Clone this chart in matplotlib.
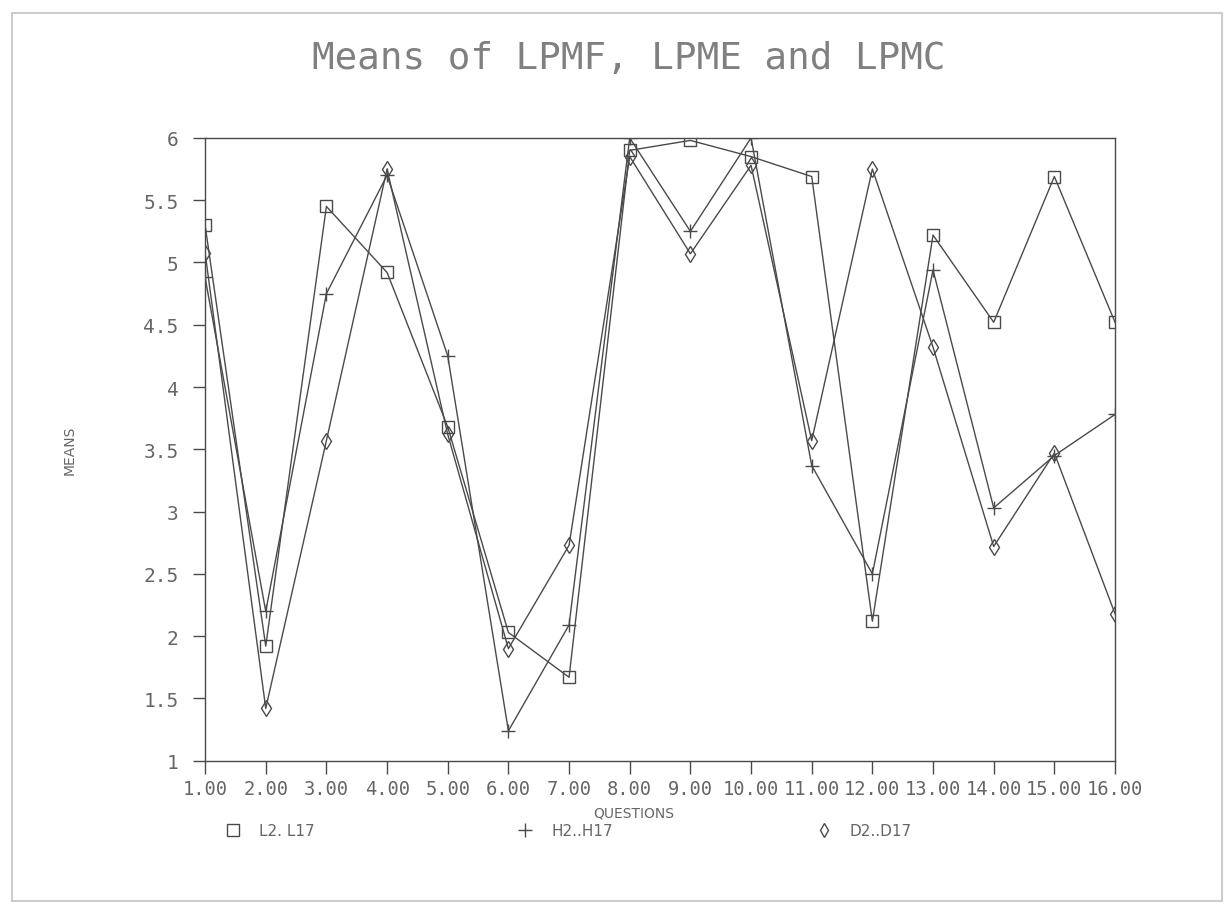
import matplotlib
matplotlib.use("Agg")
from matplotlib import pyplot as plt
from matplotlib.lines import Line2D

questions = list(range(1, 17))
tick_labels = ["%.2f" % q for q in questions]

# means
lpmf = [5.30, 1.92, 5.45, 4.92, 3.68, 2.03, 1.67, 5.90, 5.98, 5.85, 5.69, 2.12, 5.22, 4.52, 5.69, 4.52]
lpme = [4.88, 2.20, 4.75, 5.70, 4.25, 1.24, 2.09, 6.00, 5.25, 6.00, 3.37, 2.50, 4.94, 3.03, 3.45, 3.78]
lpmc = [5.08, 1.42, 3.57, 5.75, 3.62, 1.90, 2.73, 5.85, 5.07, 5.78, 3.57, 5.75, 4.32, 2.72, 3.47, 2.18]

series_names = ["L2. L17", "H2..H17", "D2..D17"]

ink = "#4a4a4a"
txt = "#666666"
mono = "DejaVu Sans Mono"

fig = plt.figure(figsize=(12.28, 9.2), dpi=100)
ax = fig.add_axes([0.167, 0.172, 0.741, 0.677])

ax.plot(questions, lpmf, color=ink, lw=1.0, marker="s", ms=8, mfc="none", mec=ink, mew=1.0)
ax.plot(questions, lpme, color=ink, lw=1.0, marker="+", ms=10, mec=ink, mew=1.0)
ax.plot(questions, lpmc, color=ink, lw=1.0, marker="d", ms=8, mfc="none", mec=ink, mew=1.0)

ax.set_xlim(1, 16)
ax.set_ylim(1, 6)
ax.set_xticks(questions)
ax.set_xticklabels(tick_labels, family=mono, fontsize=13.5, color=txt)
ax.set_yticks([1, 1.5, 2, 2.5, 3, 3.5, 4, 4.5, 5, 5.5, 6])
ax.set_yticklabels(["1", "1.5", "2", "2.5", "3", "3.5", "4", "4.5", "5", "5.5", "6"],
                   family=mono, fontsize=14, color=txt)
ax.tick_params(direction="out", length=9, width=1.0, color=ink)
ax.tick_params(axis="x", pad=4)
ax.tick_params(axis="y", pad=10)
for s in ax.spines.values():
    s.set_color(ink)
    s.set_linewidth(1.0)

ax.set_ylabel("MEANS", family="DejaVu Sans", fontsize=10, color=txt, labelpad=48)
fig.text(0.516, 0.111, "QUESTIONS", family="DejaVu Sans", fontsize=10, color=txt, ha="center")
fig.text(0.512, 0.936, "Means of LPMF, LPME and LPMC", family=mono, fontsize=27,
         color="#808080", ha="center", va="center")

handles = [Line2D([], [], ls="none", marker="s", ms=8, mfc="none", mec=ink),
           Line2D([], [], ls="none", marker="+", ms=10, mec=ink),
           Line2D([], [], ls="none", marker="d", ms=7, mfc="none", mec=ink)]
leg = fig.legend(handles, series_names, loc="center", bbox_to_anchor=(0.463, 0.096), ncol=3,
                 frameon=False, handlelength=1.0, handletextpad=1.2, columnspacing=13.3,
                 prop={"family": "DejaVu Sans", "size": 11})
for t in leg.get_texts():
    t.set_color(txt)

# faint border of the scanned page
fig.patches.append(plt.Rectangle((0.01, 0.02), 0.985, 0.965, transform=fig.transFigure,
                                 fill=False, ec="#cccccc", lw=1.5))

fig.savefig("out.png", dpi=100)
